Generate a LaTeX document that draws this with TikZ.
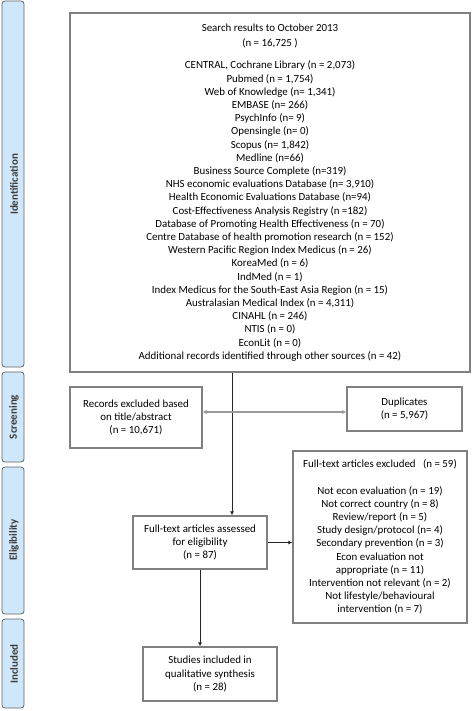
\documentclass[tikz,border=0pt]{standalone}
\usepackage{fontspec}
\setmainfont{Carlito}
\usetikzlibrary{arrows.meta}
\definecolor{barfill}{RGB}{207,231,250}
\definecolor{boxline}{RGB}{128,128,128}
\definecolor{bartext}{RGB}{60,60,60}
\begin{document}
\begin{tikzpicture}[x=1pt,y=-1pt,
  every node/.style={font=\fontsize{10.9}{13.2}\selectfont, inner sep=0pt},
  flowbox/.style={draw=boxline, line width=1.2pt, align=center, fill=white},
  phasebar/.style={draw=bartext!80, line width=0.8pt, fill=barfill, rounded corners=3pt},
  phaselabel/.style={rotate=90, font=\fontsize{11}{12}\selectfont\bfseries, text=bartext},
  arr/.style={-{Latex[length=4pt,width=4pt]}, line width=0.8pt, draw=black!85},
  garr/.style={-{Latex[length=4pt,width=4pt]}, line width=1.3pt, draw=black!40}
]
\useasboundingbox (0,0) rectangle (472,711);

% phase bars
\draw[phasebar] (2,1) rectangle (24,367);
\node[phaselabel] (lid) at (14,184.5) {Identification};
\draw[phasebar] (2,372) rectangle (24,462);
\node[phaselabel] (lsc) at (14,417) {Screening};
\draw[phasebar] (2,467) rectangle (24,614);
\node[phaselabel] (lel) at (14,540) {Eligibility};
\draw[phasebar] (2,619) rectangle (24,708);
\node[phaselabel] (lin) at (14,664) {Included};

% boxes
\node[flowbox, minimum width=400pt, minimum height=359pt] (top) at (270,192.5) {%
Search results to October 2013\\[2pt]
(n = 16,725 )\\[9pt]
CENTRAL, Cochrane Library (n = 2,073)\\
Pubmed (n = 1,754)\\
Web of Knowledge (n= 1,341)\\
EMBASE (n= 266)\\
PsychInfo (n= 9)\\
Opensingle (n= 0)\\
Scopus (n= 1,842)\\
Medline (n=66)\\
Business Source Complete (n=319)\\
NHS economic evaluations Database (n= 3,910)\\
Health Economic Evaluations Database (n=94)\\
Cost-Effectiveness Analysis Registry (n =182)\\
Database of Promoting Health Effectiveness (n = 70)\\
Centre Database of health promotion research (n = 152)\\
Western Pacific Region Index Medicus (n = 26)\\
KoreaMed (n = 6)\\
IndMed (n = 1)\\
Index Medicus for the South-East Asia Region (n = 15)\\
Australasian Medical Index (n = 4,311)\\
CINAHL (n = 246)\\
NTIS (n = 0)\\
EconLit (n = 0)\\
Additional records identified through other sources (n = 42)};

\node[flowbox, minimum width=132pt, minimum height=61pt] (rec) at (136,417.5) {%
Records excluded based\\ on title/abstract\\ (n = 10,671)};
\node[flowbox, minimum width=115pt, minimum height=44pt] (dup) at (404.5,409) {%
Duplicates\\ (n = 5,967)};
\node[flowbox, minimum width=174pt, minimum height=172pt] (fte) at (380,537) {%
Full-text articles excluded \ \ (n = 59)\\[13.2pt]
Not econ evaluation (n = 19)\\
Not correct country (n = 8)\\
Review/report (n = 5)\\
Study design/protocol (n= 4)\\
Secondary prevention (n = 3)\\
Econ evaluation not\\
appropriate (n = 11)\\
Intervention not relevant (n = 2)\\
Not lifestyle/behavioural\\
intervention (n = 7)};
\node[flowbox, minimum width=134pt, minimum height=53pt] (fta) at (200,542.5) {%
Full-text articles assessed\\ for eligibility\\ (n = 87)};
\node[flowbox, minimum width=134pt, minimum height=54pt] (stu) at (210,674) {%
Studies included in\\ qualitative synthesis\\ (n = 28)};

% connectors
\coordinate (split) at (232,412);
\draw[arr] (top.south -| split) -- (fta.north -| split);
\draw[garr] (split) -- (rec.east |- split);
\draw[garr] (split) -- (dup.west |- split);
\draw[arr] (fta.east) -- (fte.west |- fta.east);
\draw[arr] (fta.south) -- (fta.south |- stu.north);
\end{tikzpicture}
\end{document}
